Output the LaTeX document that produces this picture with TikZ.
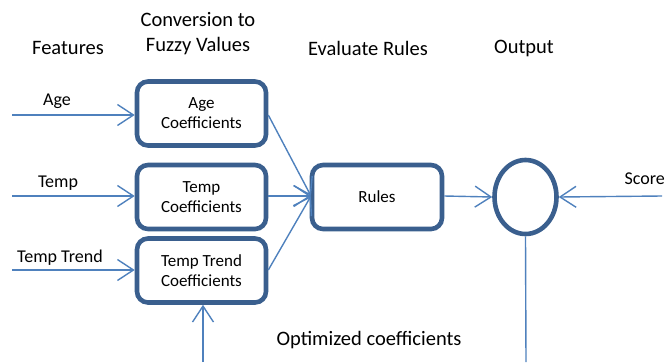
\documentclass[tikz,border=0pt]{standalone}
\usepackage{fontspec}
\setmainfont{Carlito}
\usetikzlibrary{arrows.meta,shapes.geometric}
\definecolor{boxblue}{HTML}{3A5F8E}
\definecolor{lineblue}{HTML}{4F81BD}
\begin{document}
\begin{tikzpicture}[x=1pt,y=-1pt,
  coefbox/.style={draw=boxblue,line width=4.6pt,rounded corners=11pt,fill=white,
    minimum width=129pt,minimum height=64pt,inner sep=0pt,align=center,font=\fontsize{17}{20}\selectfont},
  conn/.style={draw=lineblue,line width=1.4pt,-{Straight Barb[length=16pt,width=21pt,line width=1.4pt]}},
  plain/.style={draw=lineblue,line width=1.4pt},
  head/.style={font=\fontsize{20.5}{25}\selectfont,align=center},
  lab/.style={font=\fontsize{18}{22}\selectfont}]
\useasboundingbox (0,0) rectangle (672,362);
\begin{scope}
\clip (0,0) rectangle (672,362);
% headings
\node[head] (hfeat) at (68,48) {Features};
\node[head] (hconv) at (198,34) {Conversion to\\Fuzzy Values};
\node[head] (heval) at (368,48) {Evaluate Rules};
\node[head] (hout) at (524,48) {Output};
% boxes
\node[coefbox] (age) at (201.5,113.5) {Age\\Coefficients};
\node[coefbox] (temp) at (201.5,197) {Temp\\Coefficients};
\node[coefbox] (trend) at (201.5,270.5) {Temp Trend\\Coefficients};
\node[coefbox,minimum width=130pt] (rules) at (377,197) {Rules};
\node[draw=boxblue,line width=4.6pt,ellipse,minimum width=62pt,minimum height=74pt,inner sep=0pt] (out) at (525.5,197) {};
% feature labels
\node[lab] (lage) at (57,101) {Age};
\node[lab] (ltemp) at (58,183) {Temp};
\node[lab] (ltrend) at (60,258) {Temp Trend};
\node[lab,anchor=west] (lscore) at (621,179) {Score};
\node[head] (lopt) at (369,340) {Optimized coefficients};
% input coordinates
\coordinate (iage) at (12,115);
\coordinate (itemp) at (12,196);
\coordinate (itrend) at (12,270);
\coordinate (iscore) at (662,196);
\coordinate (iopt) at (203,362);
\coordinate (oend) at (526,362);
\coordinate (rin) at (311,196);
% connectors
\draw[conn] (iage) -- (age.west |- iage);
\draw[conn] (itemp) -- (temp.west |- itemp);
\draw[conn] (itrend) -- (trend.west |- itrend);
\draw[conn] (age.east |- iage) -- (rin);
\draw[conn] (temp.east |- itemp) -- (rin);
\draw[conn] (trend.east |- itrend) -- (rin);
\draw[conn] (rules.east |- itemp) -- (out.west);
\draw[conn] (iscore) -- (out.east);
\draw[conn] (iopt) -- (trend.south -| iopt);
\draw[plain] (out.south) -- (oend);
\end{scope}
\end{tikzpicture}
\end{document}
